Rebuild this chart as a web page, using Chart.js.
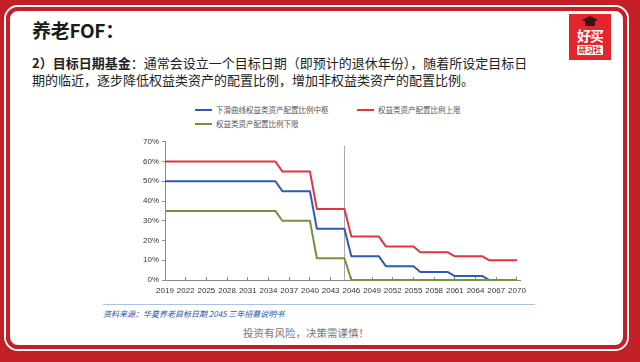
<!DOCTYPE html>
<html>
<head>
<meta charset="utf-8">
<script src="https://cdn.jsdelivr.net/npm/chart.js@4/dist/chart.umd.min.js"></script>
<style>
    html, body { margin: 0; padding: 0; }
    body {
        width: 640px; height: 362px; position: relative; overflow: hidden;
        background: #C21F26;
        font-family: "Noto Sans CJK SC", "Noto Sans", sans-serif;
    }
    .frame {
        position: absolute; left: 4px; top: 5px; width: 625px; height: 346px;
        box-sizing: border-box; border: 2px solid #fff; border-radius: 14px;
    }
    .frame-inner {
        position: absolute; inset: 0; box-sizing: border-box;
        border: 4px solid #C21F26; border-radius: 12px; background: #fff;
    }
    .title {
        position: absolute; left: 32px; top: 16px;
        font-size: 19px; font-weight: 700; color: #1a1a1a; letter-spacing: -0.3px;
    }
    .intro {
        position: absolute; left: 32px; top: 54px; width: 560px;
        font-size: 13px; line-height: 17px; color: #222;
    }
    .intro b { font-weight: 700; }

    /* logo */
    .logo {
        position: absolute; left: 569px; top: 14px; width: 42px; height: 46px;
        background: #E3262B;
    }
    .logo .cap {
        position: absolute; left: 13px; top: 2px; width: 16px; height: 8px;
        background: #3a1414; clip-path: polygon(50% 0, 100% 50%, 50% 100%, 0 50%);
    }
    .logo .cap-base {
        position: absolute; left: 16px; top: 8px; width: 10px; height: 4px; background: #3a1414;
    }
    .logo .brand {
        position: absolute; left: 0; top: 13px; width: 42px; text-align: center;
        color: #fff; font-size: 14px; font-weight: 700; line-height: 16px; letter-spacing: -1px;
    }
    .logo .sub {
        position: absolute; left: 8px; top: 31px; width: 26px; height: 10px;
        background: #fff; border-radius: 1px; color: #D2232A;
        font-size: 7.5px; font-weight: 700; line-height: 10px; text-align: center;
    }

    #chart { position: absolute; left: 120px; top: 134px; }

    .legend-item {
        position: absolute; height: 10px; font-size: 7.5px; line-height: 10px;
        color: #555; white-space: nowrap;
    }
    .legend-item i {
        display: inline-block; width: 17px; height: 2px; vertical-align: middle;
        margin-right: 4px; position: relative; top: -1px;
    }
    .legend-item:nth-child(1) { left: 195px; top: 105px; }
    .legend-item:nth-child(2) { left: 357px; top: 105px; }
    .legend-item:nth-child(3) { left: 195px; top: 119px; }

    .rule {
        position: absolute; left: 103px; top: 304px; width: 432px; height: 1px; background: #A9C4DD;
    }
    .source {
        position: absolute; left: 103px; top: 308px;
        font-size: 8px; font-style: italic; color: #2F55A8; white-space: nowrap;
    }
    .risk {
        position: absolute; left: 0; width: 612px; top: 325px; text-align: center;
        font-size: 10.5px; color: #777;
    }
</style>
</head>
<body>
<div class="frame"><div class="frame-inner"></div></div>

<div class="title">养老FOF：</div>
<div class="intro"><b>2）目标日期基金</b>：通常会设立一个目标日期（即预计的退休年份），随着所设定目标日<br>期的临近，逐步降低权益类资产的配置比例，增加非权益类资产的配置比例。</div>

<div class="logo">
    <div class="cap"></div><div class="cap-base"></div>
    <div class="brand">好买</div>
    <div class="sub">研习社</div>
</div>

<div id="legend"></div>
<canvas id="chart" width="415" height="166"></canvas>

<div class="rule"></div>
<div class="source">资料来源：华夏养老目标日期 2045 三年招募说明书</div>
<div class="risk">投资有风险，决策需谨慎！</div>

<script>
// ── Data ──────────────────────────────────────────────────────────────────
const seriesNames = ['下滑曲线权益类资产配置比例中枢', '权益类资产配置比例上限', '权益类资产配置比例下限'];

// break points of the glide path (year -> % equity)
const pathYears   = [2019, 2035, 2036, 2040, 2041, 2045, 2046, 2050, 2051, 2055, 2056, 2060, 2061, 2065, 2066, 2070];
const midValues   = [50,   50,   45,   45,   26,   26,   12,   12,   7,    7,    4,    4,    2,    2,    0,    0];
const upperValues = [60,   60,   55,   55,   36,   36,   22,   22,   17,   17,   14,   14,   12,   12,   10,   10];

const lowerYears  = [2019, 2035, 2036, 2040, 2041, 2045, 2046, 2070];
const lowerValues = [35,   35,   30,   30,   11,   11,   0,    0];

// target date marker
const markerYear  = 2045;
const markerRange = [0, 68];

const xTickYears  = [2019, 2022, 2025, 2028, 2031, 2034, 2037, 2040, 2043, 2046, 2049, 2052, 2055, 2058, 2061, 2064, 2067, 2070];
const yTickValues = [0, 10, 20, 30, 40, 50, 60, 70];

const colors = ['#2F5BB7', '#E0363D', '#76923C'];

// ── Helpers ───────────────────────────────────────────────────────────────
const toPoints = (xs, ys) => xs.map((x, i) => ({ x, y: ys[i] }));

const axisGrey = '#8A8A8A';
const tickFont = { size: 8, family: '"Liberation Sans", Arial, sans-serif' };

const chart = new Chart(document.getElementById('chart'), {
    type: 'line',
    data: {
        datasets: [
            { label: seriesNames[0], data: toPoints(pathYears, midValues),   borderColor: colors[0], order: 2 },
            { label: seriesNames[1], data: toPoints(pathYears, upperValues), borderColor: colors[1], order: 1 },
            { label: seriesNames[2], data: toPoints(lowerYears, lowerValues), borderColor: colors[2], order: 0 },
            {
                label: 'marker',
                data: markerRange.map(v => ({ x: markerYear, y: v })),
                borderColor: '#A5A5A5', borderWidth: 1, order: 10,
            },
        ],
    },
    options: {
        responsive: false,
        animation: false,
        clip: false,
        layout: { padding: { top: 5, right: 13, left: 0, bottom: 0 } },
        elements: {
            point: { radius: 0, hoverRadius: 0 },
            line:  { tension: 0, borderWidth: 2, borderJoinStyle: 'round', fill: false },
        },
        plugins: {
            legend:  { display: false },
            tooltip: { enabled: false },
        },
        scales: {
            x: {
                type: 'linear',
                min: 2019,
                max: 2070.5,
                afterBuildTicks: s => { s.ticks = xTickYears.map(v => ({ value: v })); },
                afterFit: s => { s.height = 20; },
                grid:   { drawOnChartArea: false, tickLength: -3, color: axisGrey },
                border: { color: axisGrey, z: -1 },
                ticks:  {
                    padding: 9, color: '#333', font: tickFont,
                    autoSkip: false, maxRotation: 0,
                    callback: v => String(v),
                },
            },
            y: {
                min: 0,
                max: 70,
                afterBuildTicks: s => { s.ticks = yTickValues.map(v => ({ value: v })); },
                afterFit: s => { s.width = 45; },
                grid:   { drawOnChartArea: false, tickLength: 3, color: axisGrey },
                border: { color: axisGrey },
                ticks:  { padding: 3, color: '#333', font: tickFont, callback: v => v + '%' },
            },
        },
    },
});

// ── Legend (html, two rows like the source) ──────────────────────────────
const legend = document.getElementById('legend');
chart.data.datasets.slice(0, 3).forEach(ds => {
    const item = document.createElement('div');
    item.className = 'legend-item';
    item.innerHTML = `<i style="background:${ds.borderColor}"></i>${ds.label}`;
    legend.appendChild(item);
});
</script>
</body>
</html>
